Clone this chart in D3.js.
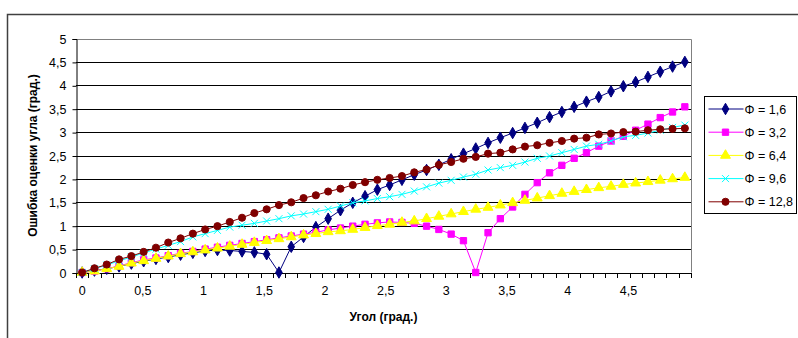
<!DOCTYPE html>
<html>
<head>
<meta charset="utf-8">
<script src="https://cdn.jsdelivr.net/npm/d3@7"></script>
<style>
  body { margin: 0; background: #fff; }
  text { font-family: "Liberation Sans", Arial, sans-serif; fill: #000; }
</style>
</head>
<body>
<div id="chart"></div>
<script>
// angle categories (deg)
var categories = [0, 0.1, 0.2, 0.3, 0.4, 0.5, 0.6, 0.7, 0.8, 0.9,
    1, 1.1, 1.2, 1.3, 1.4, 1.5, 1.6, 1.7, 1.8, 1.9,
    2, 2.1, 2.2, 2.3, 2.4, 2.5, 2.6, 2.7, 2.8, 2.9,
    3, 3.1, 3.2, 3.3, 3.4, 3.5, 3.6, 3.7, 3.8, 3.9,
    4, 4.1, 4.2, 4.3, 4.4, 4.5, 4.6, 4.7, 4.8, 4.9];

var xTickLabels = ["0", "0,5", "1", "1,5", "2", "2,5", "3", "3,5", "4", "4,5"];
var yTicks = [0, 0.5, 1, 1.5, 2, 2.5, 3, 3.5, 4, 4.5, 5];

var phi16 = [0, 0.04, 0.08, 0.13, 0.19, 0.24, 0.29, 0.33, 0.38, 0.42,
    0.46, 0.48, 0.47, 0.45, 0.43, 0.39, 0, 0.55, 0.76, 0.97,
    1.15, 1.33, 1.49, 1.63, 1.77, 1.87, 1.98, 2.09, 2.19, 2.3,
    2.42, 2.54, 2.65, 2.77, 2.88, 2.98, 3.09, 3.2, 3.32, 3.43,
    3.54, 3.65, 3.75, 3.87, 3.98, 4.07, 4.18, 4.29, 4.4, 4.5];
var phi32 = [0, 0.03, 0.08, 0.14, 0.21, 0.27, 0.31, 0.36, 0.41, 0.45,
    0.5, 0.54, 0.58, 0.62, 0.66, 0.7, 0.74, 0.78, 0.82, 0.86,
    0.91, 0.95, 0.99, 1.03, 1.06, 1.08, 1.07, 1.05, 0.99, 0.92,
    0.82, 0.68, 0, 0.85, 1.15, 1.4, 1.67, 1.92, 2.13, 2.29,
    2.44, 2.56, 2.7, 2.81, 2.91, 3.04, 3.17, 3.31, 3.43, 3.54];
var phi64 = [0, 0.03, 0.08, 0.13, 0.2, 0.25, 0.3, 0.35, 0.4, 0.44,
    0.48, 0.52, 0.56, 0.6, 0.64, 0.68, 0.72, 0.76, 0.8, 0.83,
    0.87, 0.89, 0.92, 0.96, 1, 1.03, 1.07, 1.1, 1.15, 1.2,
    1.25, 1.3, 1.35, 1.39, 1.44, 1.49, 1.54, 1.59, 1.64, 1.69,
    1.73, 1.77, 1.81, 1.84, 1.88, 1.91, 1.94, 1.97, 2, 2.03];
var phi96 = [0, 0.08, 0.16, 0.25, 0.33, 0.42, 0.5, 0.58, 0.66, 0.76,
    0.83, 0.9, 0.97, 1.01, 1.05, 1.1, 1.15, 1.21, 1.25, 1.3,
    1.35, 1.42, 1.49, 1.53, 1.58, 1.62, 1.67, 1.74, 1.83, 1.91,
    1.97, 2.04, 2.1, 2.19, 2.24, 2.29, 2.36, 2.44, 2.49, 2.56,
    2.63, 2.7, 2.74, 2.81, 2.9, 2.93, 2.98, 3.04, 3.1, 3.15];
var phi128 = [0, 0.09, 0.17, 0.28, 0.35, 0.44, 0.53, 0.64, 0.73, 0.83,
    0.92, 0.99, 1.08, 1.17, 1.27, 1.35, 1.44, 1.5, 1.59, 1.65,
    1.73, 1.79, 1.87, 1.93, 1.98, 2.02, 2.06, 2.14, 2.2, 2.3,
    2.36, 2.43, 2.47, 2.54, 2.56, 2.63, 2.69, 2.72, 2.77, 2.81,
    2.86, 2.88, 2.95, 2.97, 3, 3.01, 3.04, 3.06, 3.07, 3.08];

var seriesNames = ["\u03A6 = 1,6", "\u03A6 = 3,2", "\u03A6 = 6,4", "\u03A6 = 9,6", "\u03A6 = 12,8"];
var seriesValues = [phi16, phi32, phi64, phi96, phi128];
var seriesColors = ["#000080", "#FF00FF", "#FFFF00", "#00FFFF", "#800000"];
var seriesMarkers = ["diamond", "square", "triangle", "cross", "circle"];

var W = 798, H = 338;
var plot = {left: 76, right: 691, top: 38.5, bottom: 272.5};

var svg = d3.select("#chart").append("svg")
    .attr("width", W)
    .attr("height", H);

// chart area border
svg.append("rect")
    .attr("x", 7.5).attr("y", 14.5)
    .attr("width", 900).attr("height", 400)
    .attr("fill", "#fff")
    .attr("stroke", "#404040")
    .attr("stroke-width", 1.5);

var x = d3.scaleBand().domain(categories).range([plot.left, plot.right]);
var y = d3.scaleLinear().domain([0, 5]).range([plot.bottom, plot.top]);

function xc(i) { return x(categories[i]) + x.bandwidth() / 2; }

// gridlines
svg.append("g").selectAll("line")
    .data(yTicks.filter(function (d) { return d > 0 && d < 5; }))
    .enter().append("line")
    .attr("x1", plot.left).attr("x2", plot.right)
    .attr("y1", function (d) { return Math.round(y(d)) + 0.5; })
    .attr("y2", function (d) { return Math.round(y(d)) + 0.5; })
    .attr("stroke", "#000")
    .attr("stroke-width", 1);

// plot area top / right border
svg.append("path")
    .attr("d", "M" + plot.left + "," + (Math.round(plot.top) + 0.5) +
        "H" + (plot.right + 0.5) + "V" + plot.bottom)
    .attr("fill", "none")
    .attr("stroke", "#808080");

// y axis
var yAxis = svg.append("g")
    .attr("transform", "translate(" + (plot.left + 0.5) + ",0.5)")
    .call(d3.axisLeft(y).tickValues(yTicks).tickSize(4).tickPadding(6)
        .tickFormat(function (d) { return String(d).replace(".", ","); }));
yAxis.selectAll("text").attr("font-size", 12.5).attr("font-family", "Liberation Sans, Arial, sans-serif");
yAxis.selectAll("line, path").attr("stroke", "#000");

// x axis: ticks between categories, labels every 5th category
var xg = svg.append("g");
xg.append("line")
    .attr("x1", plot.left).attr("x2", plot.right + 0.5)
    .attr("y1", Math.round(plot.bottom) + 0.5).attr("y2", Math.round(plot.bottom) + 0.5)
    .attr("stroke", "#000");
xg.selectAll(".xt").data(categories.concat([null]))
    .enter().append("line")
    .attr("class", "xt")
    .attr("x1", function (d, i) { return Math.round(plot.left + i * x.step()) + 0.5; })
    .attr("x2", function (d, i) { return Math.round(plot.left + i * x.step()) + 0.5; })
    .attr("y1", Math.round(plot.bottom)).attr("y2", Math.round(plot.bottom) + 5)
    .attr("stroke", "#000");
xg.selectAll(".xl").data(xTickLabels)
    .enter().append("text")
    .attr("class", "xl")
    .attr("x", function (d, i) { return xc(i * 5) - i * 0.8; })
    .attr("y", 295)
    .attr("text-anchor", "middle")
    .attr("font-size", 12.5)
    .text(function (d) { return d; });

// axis titles
svg.append("text")
    .attr("x", (plot.left + plot.right) / 2)
    .attr("y", 321)
    .attr("text-anchor", "middle")
    .attr("font-size", 12)
    .attr("font-weight", "bold")
    .text("Угол (град.)");
svg.append("text")
    .attr("transform", "translate(37," + ((plot.top + plot.bottom) / 2) + ") rotate(-90)")
    .attr("text-anchor", "middle")
    .attr("font-size", 12)
    .attr("font-weight", "bold")
    .text("Ошибка оценки угла (град.)");

function markerPath(type) {
    if (type === "diamond") return d3.symbol(d3.symbolDiamond, 38)();
    if (type === "square") return d3.symbol(d3.symbolSquare, 40)();
    if (type === "triangle") return d3.symbol(d3.symbolTriangle, 42)();
    if (type === "circle") return d3.symbol(d3.symbolCircle, 40)();
    return "M-3.5,-3.5L3.5,3.5M-3.5,3.5L3.5,-3.5";
}

var line = d3.line()
    .x(function (d, i) { return xc(i); })
    .y(function (d) { return y(d); });

seriesValues.forEach(function (vals, s) {
    var g = svg.append("g");
    g.append("path")
        .attr("d", line(vals))
        .attr("fill", "none")
        .attr("stroke", seriesColors[s])
        .attr("stroke-width", 1);
    g.selectAll("path.m").data(vals)
        .enter().append("path")
        .attr("class", "m")
        .attr("transform", function (d, i) { return "translate(" + xc(i) + "," + y(d) + ")"; })
        .attr("d", markerPath(seriesMarkers[s]))
        .attr("fill", seriesMarkers[s] === "cross" ? "none" : seriesColors[s])
        .attr("stroke", seriesColors[s])
        .attr("stroke-width", 1);
});

// legend
var legend = svg.append("g").attr("transform", "translate(704.5,96.5)");
legend.append("rect")
    .attr("width", 92).attr("height", 117)
    .attr("fill", "#fff")
    .attr("stroke", "#000");
seriesNames.forEach(function (name, s) {
    var ly = 12.5 + s * 23.2;
    legend.append("line")
        .attr("x1", 4).attr("x2", 39)
        .attr("y1", ly).attr("y2", ly)
        .attr("stroke", seriesColors[s]);
    legend.append("path")
        .attr("transform", "translate(21," + ly + ")")
        .attr("d", markerPath(seriesMarkers[s]))
        .attr("fill", seriesMarkers[s] === "cross" ? "none" : seriesColors[s])
        .attr("stroke", seriesColors[s]);
    legend.append("text")
        .attr("x", 40).attr("y", ly + 4.5)
        .attr("font-size", 12.5)
        .text(name);
});
</script>
</body>
</html>
